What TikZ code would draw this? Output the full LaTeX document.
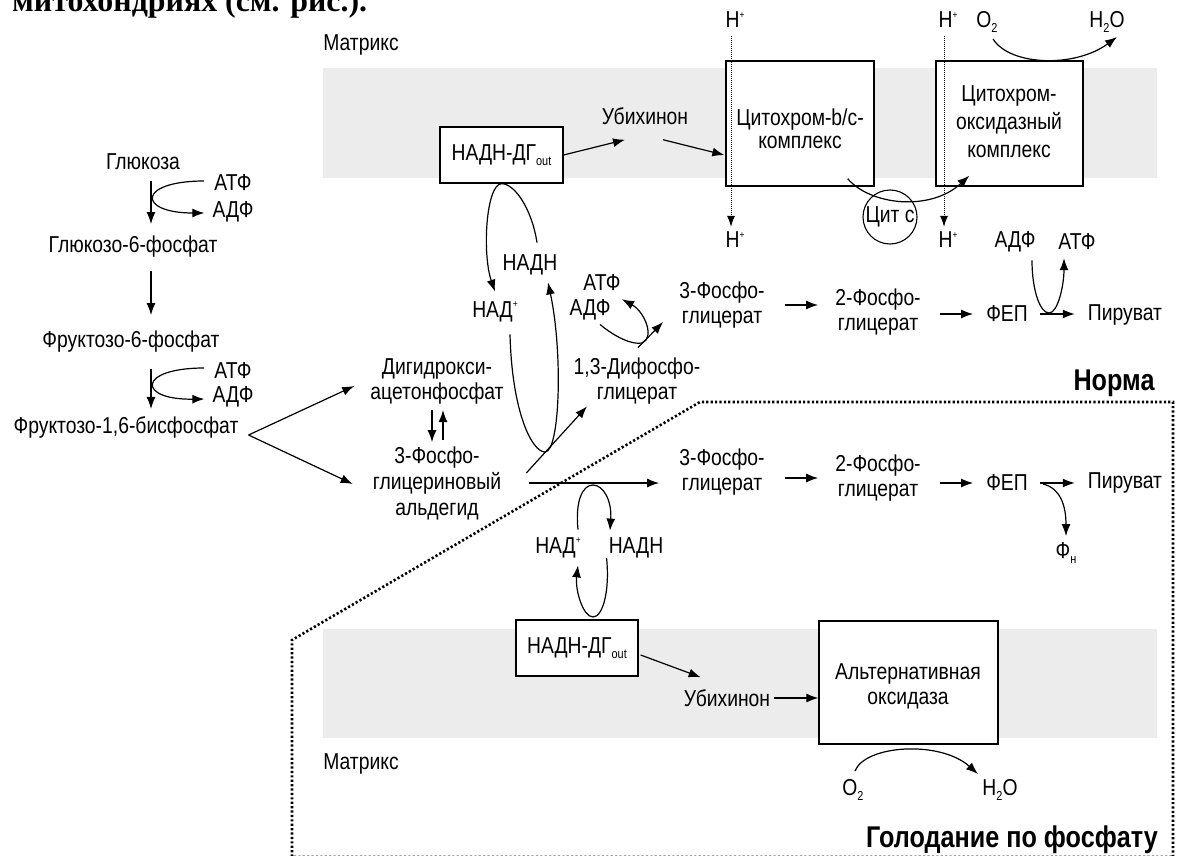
\documentclass[tikz,border=0pt]{standalone}
\usepackage{graphicx}
\usepackage{fontspec}
\setmainfont{Liberation Sans}[FakeStretch=0.84]
\newfontfamily\headfont{Liberation Serif}
\usetikzlibrary{arrows.meta}
\definecolor{membrane}{gray}{0.925}
\newcommand\supt[1]{\raisebox{0.8ex}{\fontsize{10}{10}\selectfont #1}}
\newcommand\subt[1]{\raisebox{-0.45ex}{\fontsize{13}{13}\selectfont #1}}
\begin{document}
\begin{tikzpicture}[x=1pt,y=-1pt,
  txt/.style={inner sep=0pt,font=\fontsize{23}{25}\selectfont,align=center},
  big/.style={inner sep=0pt,font=\fontsize{30}{33}\selectfont\bfseries},
  cbox/.style={draw,line width=1.3pt,fill=white,inner sep=0pt},
  arr/.style={line width=1.2pt,-{Latex[length=12pt,width=9pt]}},
  hplus/.style={densely dotted,line width=1pt,-{Latex[length=11pt,width=8pt]}},
  border/.style={line width=2.6pt,dash pattern=on 2.2pt off 2.2pt},
]
\clip (0,0) rectangle (1180,856);
\fill[white] (0,0) rectangle (1180,856);

% heading of the surrounding text
\node[anchor=base west,inner sep=0pt] (caption) at (12,12)
  {\resizebox{355pt}{!}{\headfont\bfseries\fontsize{32}{34}\selectfont митохондриях (см. рис.).}};

% membranes
\fill[membrane] (323,68) rectangle (1157,178);
\fill[membrane] (323,629) rectangle (1157,738);

% ---------- upper respiratory chain ----------
\node[txt] (matrixtop) at (361,45) {Матрикс};
\node[cbox,txt,minimum width=123pt,minimum height=56pt] (ndhtop) at (501.5,155) {НАДН-ДГ\subt{out}};
\node[txt] (ubitop) at (645,116) {Убихинон};
\node[cbox,minimum width=148pt,minimum height=125pt] (cytbc) at (800,123.5) {};
\node[txt,font=\fontsize{23}{23}\selectfont] (cytbctxt) at (800,129) {Цитохром-b/c-\\комплекс};
\node[cbox,minimum width=147pt,minimum height=125pt] (cytox) at (1009.5,123.5) {};
\node[txt,font=\fontsize{23}{28}\selectfont] (cytoxtxt) at (1009,122) {Цитохром-\\оксидазный\\комплекс};
\node[txt] (h1t) at (735,20) {H\supt{+}};
\node[txt] (h1b) at (735,240) {H\supt{+}};
\node[txt] (h2t) at (948,20) {H\supt{+}};
\node[txt] (h2b) at (948,240) {H\supt{+}};
\node[txt] (o2t) at (987,22) {O\subt{2}};
\node[txt] (h2ot) at (1107,22) {H\subt{2}O};
\node[txt,draw,circle,line width=1.1pt,minimum size=54pt] (cytc) at (890,217) {Цит с};

\draw[arr] (ndhtop.east) -- ([shift={(-20,15)}]ubitop.south);
\draw[arr] ([shift={(18,15)}]ubitop.south) -- ([shift={(-1,31.5)}]cytbc.west);
\draw[hplus] ([shift={(-4,8)}]h1t.south) -- ([shift={(-4,-5)}]h1b.north);
\draw[hplus] ([shift={(-4,8)}]h2t.south) -- ([shift={(-4,-5)}]h2b.north);
\draw[arr] ([shift={(6,6)}]o2t.south) .. controls (1010,66) and (1075,68) .. ([shift={(10,4)}]h2ot.south);
\draw[arr] ([shift={(-27,-8)}]cytbc.south east) .. controls (870,205) and (930,212) .. ([shift={(34,-11)}]cytox.south west);

% ---------- glycolysis (left column) ----------
\coordinate (colx) at (151,0);
\node[txt] (glc) at (143,162) {Глюкоза};
\node[txt] (atp1) at (233,183) {АТФ};
\node[txt] (adp1) at (233,212) {АДФ};
\node[txt] (g6p) at (133,247) {Глюкозо-6-фосфат};
\node[txt] (f6p) at (131,342) {Фруктозо-6-фосфат};
\node[txt] (atp2) at (233,371) {АТФ};
\node[txt] (adp2) at (233,397) {АДФ};
\node[txt] (f16bp) at (126,427) {Фруктозо-1,6-бисфосфат};

\draw[arr,shorten <=11pt,shorten >=12pt] (glc.south -| colx) -- (g6p.north -| colx);
\draw[arr,shorten <=13pt,shorten >=16pt] (g6p.south -| colx) -- (f6p.north -| colx);
\draw[arr,shorten <=16pt,shorten >=7pt] (f6p.south -| colx) -- (f16bp.north -| colx);
\draw[arr] ([shift={(-10,-2)}]atp1.west) .. controls (137,181) and (137,213) .. ([shift={(-8,1)}]adp1.west);
\draw[arr] ([shift={(-10,-3)}]atp2.west) .. controls (137,368) and (137,400) .. ([shift={(-8,2)}]adp2.west);

\node[txt] (dhap) at (437,381) {Дигидрокси-\\ацетонфосфат};
\node[txt,font=\fontsize{23}{26}\selectfont] (gap) at (437,483) {3-Фосфо-\\глицериновый\\альдегид};
\draw[arr] ([shift={(10,8)}]f16bp.east) -- ([shift={(-16,5)}]dhap.west);
\draw[arr] ([shift={(10,8)}]f16bp.east) -- ([shift={(-20,1)}]gap.west);
\draw[arr,line width=1.3pt] ([shift={(-5,6)}]dhap.south) -- ([shift={(-5,-4)}]gap.north);
\draw[arr,line width=1.3pt] ([shift={(6,-6)}]gap.north) -- ([shift={(6,6)}]dhap.south);

% ---------- normal branch ----------
\node[txt] (nadt) at (530,265) {НАДН};
\node[txt] (nadpt) at (495,312) {НАД\supt{+}};
\node[txt] (atp3) at (602,283) {АТФ};
\node[txt] (adp3) at (590,310) {АДФ};
\node[txt] (dpg) at (637,381) {1,3-Дифосфо-\\глицерат};
\node[txt] (pga3a) at (722,305) {3-Фосфо-\\глицерат};
\node[txt] (pga2a) at (878,312) {2-Фосфо-\\глицерат};
\node[txt] (pepa) at (1007,314) {ФЕП};
\node[txt] (pyra) at (1125,315) {Пируват};
\node[txt] (adptop) at (1015,242) {АДФ};
\node[txt] (atptop) at (1077,242) {АТФ};
\node[big] (norma) at (1114,383) {Норма};

\draw[arr] ([shift={(7,-12)}]nadt.north) .. controls +(-5,-33) and +(13.5,0) .. (ndhtop.south)
   .. controls +(-15.5,1) and +(-13,-38) .. ([shift={(0,-10)}]nadpt.north);
\draw[arr] ([shift={(15,12)}]nadpt.south) .. controls +(2,78) and +(-13,0) .. (545,452)
   .. controls +(15,0) and +(15,70) .. ([shift={(18,7)}]nadt.south);
\draw[arr] ([shift={(25,-10)}]gap.east) -- ([shift={(-50,2)}]dpg.south);
\draw[arr] ([shift={(1,-10)}]dpg.north) -- ([shift={(-16,17)}]pga3a.west);
\draw[arr] ([shift={(10,4)}]adp3.south) .. controls (615,337) and (632,345) .. (642,343)
   .. controls (655,338) and (645,312) .. ([shift={(20,8)}]atp3.south);
\draw[arr,shorten <=20pt,shorten >=17pt] (pga3a.east) -- (pga3a.east -| pga2a.west);
\draw[arr,shorten <=19pt,shorten >=13pt] (pga2a.east |- pepa.west) -- (pepa.west);
\draw[arr,shorten <=12pt,shorten >=13pt] (pepa.east) -- (pepa.east -| pyra.west);
\draw[arr] ([shift={(17,8)}]adptop.south) .. controls (1032,290) and (1040,313) .. (1049,313)
   .. controls (1058,313) and (1064,285) .. ([shift={(-13,8)}]atptop.south);

% ---------- phosphate starvation branch ----------
\node[txt] (pga3b) at (722,472) {3-Фосфо-\\глицерат};
\node[txt] (pga2b) at (878,478) {2-Фосфо-\\глицерат};
\node[txt] (pepb) at (1007,483) {ФЕП};
\node[txt] (pyrb) at (1125,483) {Пируват};
\node[txt] (pi) at (1066,553) {Ф\subt{н}};
\node[txt] (nadpb) at (558,548) {НАД\supt{+}};
\node[txt] (nadhb) at (636,548) {НАДН};
\node[cbox,txt,minimum width=122pt,minimum height=56pt] (ndhbot) at (577,648) {НАДН-ДГ\subt{out}};
\node[txt] (ubibot) at (727,698) {Убихинон};
\node[cbox,minimum width=179pt,minimum height=123pt] (aox) at (908.5,682.5) {};
\node[txt] (aoxtxt) at (908,686) {Альтернативная\\оксидаза};
\node[txt] (o2b) at (853,790) {O\subt{2}};
\node[txt] (h2ob) at (1000,790) {H\subt{2}O};
\node[txt] (matrixbot) at (361,764) {Матрикс};
\node[big,anchor=base east] (starve) at (1158,847) {Голодание по фосфату};

\draw[arr,shorten <=28pt,shorten >=20pt] (gap.east) -- (gap.east -| pga3b.west);
\draw[arr,shorten <=20pt,shorten >=17pt] (pga3b.east |- pga2b.west) -- (pga2b.west);
\draw[arr,shorten <=19pt,shorten >=13pt] (pga2b.east |- pepb.west) -- (pepb.west);
\draw[arr,shorten <=12pt,shorten >=13pt] (pepb.east) -- (pepb.east -| pyrb.west);
\draw[arr] ([shift={(15,1)}]pepb.east) .. controls (1060,488) and (1066,505) .. ([shift={(0,-6)}]pi.north);
\draw[arr] ([shift={(20,-8)}]nadpb.north) .. controls (575,500) and (583,485) .. (593,485)
   .. controls (603,485) and (612,500) .. ([shift={(-26,-7)}]nadhb.north);
\draw[arr] ([shift={(-2,10)}]nadhb.west) .. controls (610,590) and (603,617) .. (593,617)
   .. controls (583,617) and (575,590) .. ([shift={(20,7)}]nadpb.south);
\draw[arr] ([shift={(2,7)}]ndhbot.east) -- ([shift={(17,-12)}]ubibot.north west);
\draw[arr,shorten <=4pt] (ubibot.east) -- (ubibot.east -| aox.west);
\draw[arr] ([shift={(2,-8)}]o2b.north) .. controls (865,745) and (940,740) .. ([shift={(-22,-5)}]h2ob.north);

% boundary of the starvation panel
\draw[border] (1173,857) -- (1173,402) -- (700,402) -- (292,640) -- (292,857) -- cycle;
\end{tikzpicture}
\end{document}
